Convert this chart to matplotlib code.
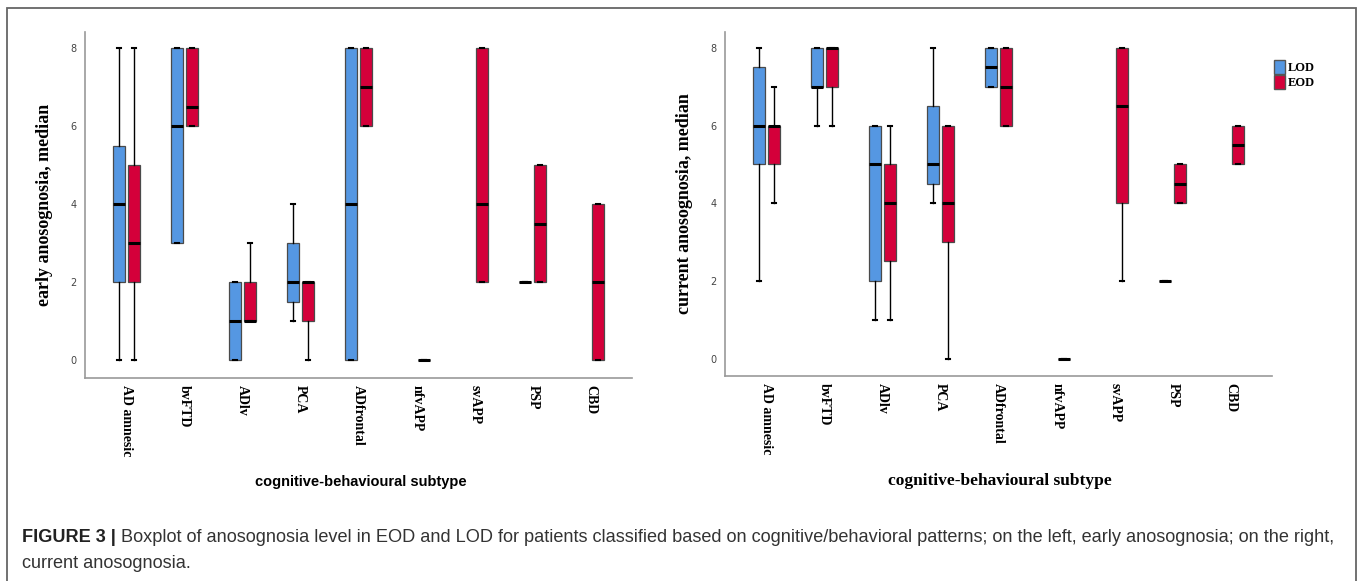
import numpy as np
import matplotlib.pyplot as plt
from matplotlib.patches import Patch, Rectangle

subtypes = ["AD amnesic", "bvFTD", "ADlv", "PCA", "ADfrontal", "nfvAPP", "svAPP", "PSP", "CBD"]

# (min, q1, median, q3, max) per subtype, None = no patients in that group
early_lod = [(0, 2, 4, 5.5, 8), (3, 3, 6, 8, 8), (0, 0, 1, 2, 2), (1, 1.5, 2, 3, 4),
             (0, 0, 4, 8, 8), None, None, (2, 2, 2, 2, 2), None]
early_eod = [(0, 2, 3, 5, 8), (6, 6, 6.5, 8, 8), (1, 1, 1, 2, 3), (0, 1, 2, 2, 2),
             (6, 6, 7, 8, 8), (0, 0, 0, 0, 0), (2, 2, 4, 8, 8), (2, 2, 3.5, 5, 5), (0, 0, 2, 4, 4)]
current_lod = [(2, 5, 6, 7.5, 8), (6, 7, 7, 8, 8), (1, 2, 5, 6, 6), (4, 4.5, 5, 6.5, 8),
               (7, 7, 7.5, 8, 8), None, None, (2, 2, 2, 2, 2), None]
current_eod = [(4, 5, 6, 6, 7), (6, 7, 8, 8, 8), (1, 2.5, 4, 5, 6), (0, 3, 4, 6, 6),
               (6, 6, 7, 8, 8), (0, 0, 0, 0, 0), (2, 4, 6.5, 8, 8), (4, 4, 4.5, 5, 5), (5, 5, 5.5, 6, 6)]
yticks = [0, 2, 4, 6, 8]

blue = "#5597e2"
red = "#d4003a"
W, H = 1357, 581

fig = plt.figure(figsize=(W / 100, H / 100), dpi=100)
axL = fig.add_axes((85 / W, 1 - 378 / H, 547 / W, 346 / H))
axR = fig.add_axes((725 / W, 1 - 376 / H, 547 / W, 344 / H))


def draw(ax, lod, eod, ylabel):
    for vals, off, col in ((lod, -0.13, blue), (eod, 0.12, red)):
        stats, pos = [], []
        for i, v in enumerate(vals):
            if v is None:
                continue
            stats.append(dict(whislo=v[0], q1=v[1], med=v[2], q3=v[3], whishi=v[4], fliers=[]))
            pos.append(i + off)
        ax.bxp(stats, positions=pos, widths=0.21, patch_artist=True, showfliers=False,
               capwidths=0.07, manage_ticks=False,
               boxprops=dict(facecolor=col, edgecolor="#4a4a4a", linewidth=0.9),
               medianprops=dict(color="black", linewidth=2.2),
               whiskerprops=dict(color="black", linewidth=1),
               capprops=dict(color="black", linewidth=1.5))
    ax.set_xlim(-0.72, 8.71)
    ax.set_ylim(-0.45, 8.41)
    ax.set_xticks(range(len(subtypes)))
    ax.set_xticklabels(subtypes, rotation=-90, family="Liberation Serif",
                       weight="bold", fontsize=10)
    ax.set_yticks(yticks)
    ax.set_yticklabels([str(t) for t in yticks], fontsize=7, color="#444444")
    ax.tick_params(length=0, axis="y", pad=6)
    ax.tick_params(length=0, axis="x", pad=5)
    for s in ("top", "right"):
        ax.spines[s].set_visible(False)
    for s in ("left", "bottom"):
        ax.spines[s].set_color("#999999")
        ax.spines[s].set_linewidth(1.2)
    ax.set_ylabel(ylabel, family="Liberation Serif", weight="bold", fontsize=13)
    ax.yaxis.set_label_coords(-0.058, 0.5)


draw(axL, early_lod, early_eod, "early anosognosia, median")
draw(axR, current_lod, current_eod, "current anosognosia, median")

axR.legend(handles=[Patch(facecolor=blue, edgecolor="#555555", label="LOD"),
                    Patch(facecolor=red, edgecolor="#555555", label="EOD")],
           loc="upper left", bbox_to_anchor=(1274 / W, 1 - 60 / H), bbox_transform=fig.transFigure,
           frameon=False, borderpad=0, borderaxespad=0, handlelength=0.9, handleheight=1.3,
           handletextpad=0.2, labelspacing=0.1,
           prop=dict(family="Liberation Serif", weight="bold", size=9))

fig.text(361 / W, 1 - 482 / H, "cognitive-behavioural subtype", ha="center", va="center",
         family="Liberation Sans", weight="bold", fontsize=10.5)
fig.text(1000 / W, 1 - 481 / H, "cognitive-behavioural subtype", ha="center", va="center",
         family="Liberation Serif", weight="bold", fontsize=12.5)

# outer frame around the figure panel
fig.add_artist(Rectangle((7 / W, -0.02), (1356 - 7) / W, (H - 8) / H + 0.02,
                         transform=fig.transFigure, fill=False, edgecolor="#666666", linewidth=1.3))

t1 = fig.text(22 / W, 1 - 537 / H, "FIGURE 3 |", ha="left", va="center",
              family="Liberation Sans", weight="bold", fontsize=13.1, color="#222222")
axL.annotate("Boxplot of anosognosia level in EOD and LOD for patients classified based on "
             "cognitive/behavioral patterns; on the left, early anosognosia; on the right,",
             xy=(1, 0.5), xycoords=t1, xytext=(4, 0), textcoords="offset points",
             ha="left", va="center", family="Liberation Sans", fontsize=13.1,
             color="#333333", annotation_clip=False)
fig.text(22 / W, 1 - 564 / H, "current anosognosia.", ha="left", va="center",
         family="Liberation Sans", fontsize=13.1, color="#333333")

fig.savefig("out.png", dpi=100)
